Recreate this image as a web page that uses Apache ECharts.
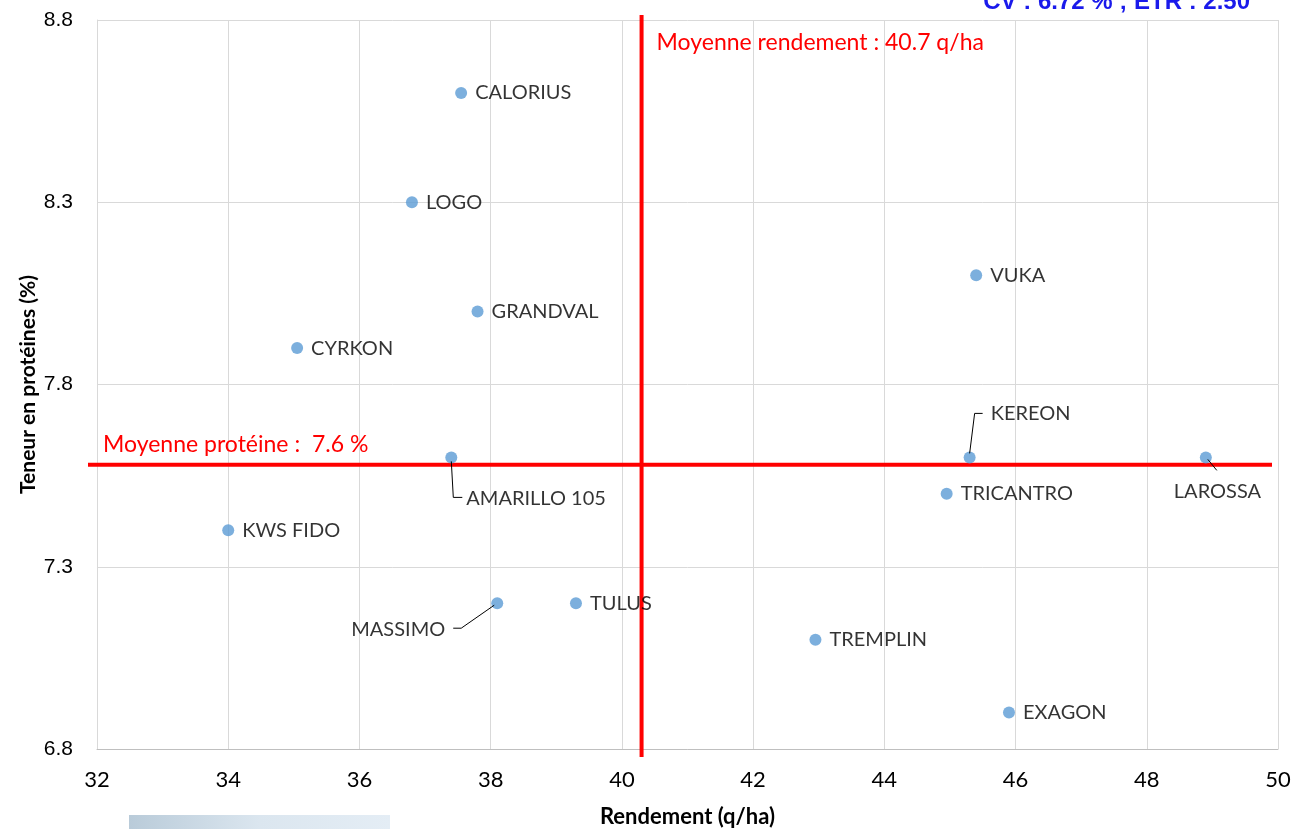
<!DOCTYPE html>
<html>
<head>
<meta charset="utf-8">
<script src="https://cdn.jsdelivr.net/npm/echarts@6/dist/echarts.min.js"></script>
<style>
  html, body { margin: 0; padding: 0; background: #fff; }
  #myChart { width: 1292px; height: 829px; }
</style>
</head>
<body>
<div id="myChart"></div>
<script>
// variétés, rendement (q/ha) et teneur en protéines (%)
const varieties = ['CALORIUS', 'LOGO', 'VUKA', 'GRANDVAL', 'CYRKON', 'AMARILLO 105', 'KEREON', 'LAROSSA',
  'TRICANTRO', 'KWS FIDO', 'MASSIMO', 'TULUS', 'TREMPLIN', 'EXAGON'];
const rendement = [37.55, 36.8, 45.4, 37.8, 35.05, 37.4, 45.3, 48.9, 44.95, 34.0, 38.1, 39.3, 42.95, 45.9];
const proteine = [8.6, 8.3, 8.1, 8.0, 7.9, 7.6, 7.6, 7.6, 7.5, 7.4, 7.2, 7.2, 7.1, 6.9];
const xTicks = [32, 34, 36, 38, 40, 42, 44, 46, 48, 50];
const yTicks = [6.8, 7.3, 7.8, 8.3, 8.8];
// lignes de moyenne (position tracée) et textes
const meanX = 40.3;
const meanY = 7.58;
const meanXText = 'Moyenne rendement : 40.7 q/ha';
const meanYText = 'Moyenne protéine :  7.6 %';
const statsText = 'CV : 6.72 % ; ETR : 2.50';

// décalages des étiquettes (px) et traits de rappel relatifs au point
const labelShift = {
  'AMARILLO 105': {dx: 1, dy: 41, line: [[0, 4], [2, 40], [11, 40]]},
  'KEREON': {dx: 7, dy: -44, line: [[0, -4], [5, -44], [13, -44]]},
  'LAROSSA': {dx: -46, dy: 34, line: [[2, 2], [11, 13]]},
  'MASSIMO': {dx: -160, dy: 26, line: [[-3, 2], [-36, 25], [-44, 25]]}
};

let myChart = echarts.init(document.getElementById('myChart'));

let points = varieties.map((name, i) => ({name: name, value: [rendement[i], proteine[i]]}));

let option = {
  backgroundColor: '#fff',
  animation: false,
  grid: {left: 97, right: 14, top: 20, bottom: 80, outerBoundsMode: 'none'},
  xAxis: {
    type: 'value',
    min: xTicks[0],
    max: xTicks[xTicks.length - 1],
    interval: 2,
    name: 'Rendement (q/ha)',
    nameLocation: 'middle',
    nameGap: 57,
    nameTextStyle: {fontFamily: 'Lato', fontWeight: 'bold', fontSize: 22, color: '#000'},
    axisLine: {show: true, lineStyle: {color: '#bfbfbf'}},
    axisTick: {show: false},
    axisLabel: {fontFamily: 'Lato', fontSize: 22, color: '#000', margin: 20},
    splitLine: {show: true, lineStyle: {color: '#d9d9d9'}}
  },
  yAxis: {
    type: 'value',
    min: yTicks[0],
    max: yTicks[yTicks.length - 1],
    interval: 0.5,
    name: 'Teneur en protéines (%)',
    nameLocation: 'middle',
    nameGap: 58,
    nameMoveOverlap: false,
    nameTextStyle: {fontFamily: 'Lato', fontWeight: 'bold', fontSize: 21, color: '#000'},
    axisLine: {show: true, lineStyle: {color: '#d9d9d9'}},
    axisTick: {show: false},
    axisLabel: {fontFamily: 'Liberation Sans', fontSize: 21, color: '#000', margin: 24,
      formatter: v => v.toFixed(1)},
    splitLine: {show: true, lineStyle: {color: '#d9d9d9'}}
  },
  series: [
    {
      type: 'scatter',
      symbolSize: 12,
      clip: false,
      z: 3,
      itemStyle: {color: '#5b9bd5'},
      label: {
        show: true,
        position: 'right',
        distance: 8,
        offset: [0, 1],
        formatter: '{b}',
        fontFamily: 'Lato',
        fontSize: 20,
        color: '#000'
      },
      labelLayout: function (params) {
        let s = labelShift[varieties[params.dataIndex]];
        return s ? {dx: s.dx, dy: s.dy} : {};
      },
      data: points
    }
  ]
};
myChart.setOption(option);

// lignes de moyenne, textes et traits de rappel placés d'après les échelles
let toPx = v => myChart.convertToPixel({gridIndex: 0}, v);
let vTop = toPx([meanX, yTicks[yTicks.length - 1]]);
let vBottom = toPx([meanX, yTicks[0]]);
let hLeft = toPx([xTicks[0], meanY]);
let hRight = toPx([xTicks[xTicks.length - 1], meanY]);
let red = {stroke: '#ff0000', lineWidth: 4};

let graphics = [
  {type: 'line', z: 2, shape: {x1: vTop[0], y1: vTop[1] - 5, x2: vBottom[0], y2: vBottom[1] + 8}, style: red},
  {type: 'line', z: 2, shape: {x1: hLeft[0] - 9, y1: hLeft[1], x2: hRight[0] - 6, y2: hRight[1]}, style: red},
  {
    type: 'text', x: vTop[0] + 15, y: vTop[1] + 23,
    style: {text: meanXText, fill: '#ff0000', font: '23px Lato', verticalAlign: 'middle'}
  },
  {
    type: 'text', x: hLeft[0] + 6, y: hLeft[1] - 20,
    style: {text: meanYText, fill: '#ff0000', font: '23px Lato', verticalAlign: 'middle'}
  },
  {
    type: 'text', right: 42, y: 14,
    style: {text: statsText, fill: '#1a1aeb', font: 'bold 24px "Liberation Sans"', verticalAlign: 'bottom'}
  },
  {
    type: 'rect', shape: {x: 129, y: 815, width: 261, height: 14},
    style: {
      fill: new echarts.graphic.LinearGradient(0, 0, 1, 0, [
        {offset: 0, color: '#b9cbd9'},
        {offset: 0.5, color: '#dbe6ef'},
        {offset: 1, color: '#e4edf5'}
      ])
    }
  }
];
varieties.forEach((name, i) => {
  let s = labelShift[name];
  if (!s) return;
  let p = toPx([rendement[i], proteine[i]]);
  graphics.push({
    type: 'polyline', z: 4,
    shape: {points: s.line.map(o => [p[0] + o[0], p[1] + o[1]])},
    style: {stroke: '#000', lineWidth: 1, fill: null}
  });
});
myChart.setOption({graphic: graphics});
</script>
</body>
</html>
